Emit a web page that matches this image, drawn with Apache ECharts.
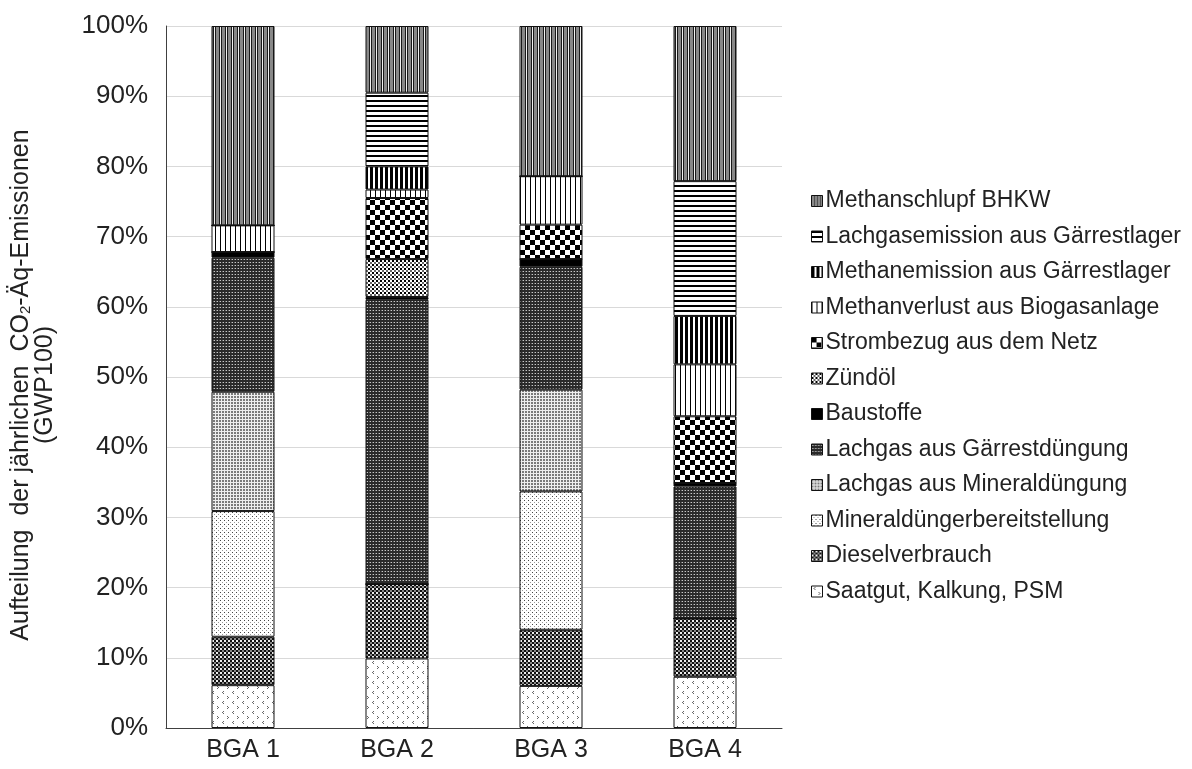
<!DOCTYPE html>
<html>
<head>
<meta charset="utf-8">
<script src="https://cdn.jsdelivr.net/npm/echarts@6/dist/echarts.min.js"></script>
<style>
  html, body { margin: 0; padding: 0; background: #fff; }
  #chart { width: 1192px; height: 769px; }
</style>
</head>
<body>
<div id="chart"></div>
<script>
// Anteile der jährlichen CO2-Äq-Emissionen je Biogasanlage (in %)
const categories = ['BGA 1', 'BGA 2', 'BGA 3', 'BGA 4'];
const saatgut         = [6.1, 9.9, 6.0, 7.3];
const diesel          = [6.9, 10.6, 8.0, 8.3];
const mineralBereit   = [17.9, 0, 19.7, 0];
const lachgasMineral  = [17.0, 0, 14.5, 0];
const lachgasGaerrest = [19.1, 40.5, 17.5, 18.8];
const baustoffe       = [0.8, 0.4, 1.1, 0.5];
const zuendoel        = [0, 5.4, 0, 0];
const strom           = [0, 8.7, 4.9, 9.5];
const methanverlust   = [3.8, 1.2, 6.9, 7.4];
const methanemission  = [0, 3.3, 0, 6.9];
const lachgasemission = [0, 10.5, 0, 19.2];
const methanschlupf   = [28.4, 9.5, 21.4, 22.1];

const yTicks = { min: 0, max: 100, step: 10 };

// Small canvas tiles used as repeating fill patterns
function tile(w, h, draw) {
  const c = document.createElement('canvas');
  c.width = w; c.height = h;
  const g = c.getContext('2d');
  draw(g);
  return { image: c, repeat: 'repeat' };
}
function px(g, color, x, y, w, h) { g.fillStyle = color; g.fillRect(x, y, w || 1, h || 1); }

const patterns = {
  saatgut: tile(10, 10, g => {
    px(g, '#fff', 0, 0, 10, 10);
    px(g, '#666', 3, 1); px(g, '#666', 2, 2); px(g, '#666', 3, 3);
    px(g, '#666', 7, 6); px(g, '#666', 8, 7); px(g, '#666', 7, 8);
  }),
  diesel: tile(4, 4, g => {
    px(g, '#111', 0, 0, 4, 4);
    px(g, '#eee', 0, 0, 2, 2);
    px(g, '#888', 2, 2, 2, 2);
  }),
  mineralBereit: tile(4, 4, g => {
    px(g, '#fff', 0, 0, 4, 4);
    px(g, '#444', 0, 0);
    px(g, '#999', 2, 2);
  }),
  lachgasMineral: tile(3, 3, g => {
    px(g, '#eeeeee', 0, 0, 3, 3);
    px(g, '#7a7a7a', 0, 0, 2, 2);
  }),
  lachgasGaerrest: tile(3, 3, g => {
    px(g, '#2a2a2a', 0, 0, 3, 3);
    px(g, '#c8c8c8', 1, 1);
    px(g, '#6a6a6a', 0, 1);
  }),
  baustoffe: '#000',
  zuendoel: tile(4, 4, g => {
    px(g, '#fff', 0, 0, 4, 4);
    px(g, '#000', 0, 0, 2, 2);
    px(g, '#666', 2, 2, 2, 2);
  }),
  strom: tile(10, 10, g => {
    px(g, '#fff', 0, 0, 10, 10);
    px(g, '#000', 0, 0, 5, 5);
    px(g, '#000', 5, 5, 5, 5);
  }),
  methanverlust: tile(5, 1, g => {
    px(g, '#fff', 0, 0, 5, 1);
    px(g, '#000', 0, 0);
  }),
  methanemission: tile(5, 1, g => {
    px(g, '#fff', 0, 0, 5, 1);
    px(g, '#000', 0, 0, 3, 1);
  }),
  lachgasemission: tile(1, 5, g => {
    px(g, '#fff', 0, 0, 1, 5);
    px(g, '#000', 0, 0, 1, 2);
  }),
  methanschlupf: tile(6, 1, g => {
    px(g, '#888', 0, 0, 3, 1);
    px(g, '#1a1a1a', 3, 0);
    px(g, '#f2f2f2', 4, 0);
    px(g, '#1a1a1a', 5, 0);
  })
};

// Stack order from bottom to top
const stackDefs = [
  ['Saatgut, Kalkung, PSM', saatgut, patterns.saatgut],
  ['Dieselverbrauch', diesel, patterns.diesel],
  ['Mineraldüngerbereitstellung', mineralBereit, patterns.mineralBereit],
  ['Lachgas aus Mineraldüngung', lachgasMineral, patterns.lachgasMineral],
  ['Lachgas aus Gärrestdüngung', lachgasGaerrest, patterns.lachgasGaerrest],
  ['Baustoffe', baustoffe, patterns.baustoffe],
  ['Zündöl', zuendoel, patterns.zuendoel],
  ['Strombezug aus dem Netz', strom, patterns.strom],
  ['Methanverlust aus Biogasanlage', methanverlust, patterns.methanverlust],
  ['Methanemission aus Gärrestlager', methanemission, patterns.methanemission],
  ['Lachgasemission aus Gärrestlager', lachgasemission, patterns.lachgasemission],
  ['Methanschlupf BHKW', methanschlupf, patterns.methanschlupf]
];

const FONT = "'Liberation Sans', Arial, sans-serif";
const TEXT = '#222';

const series = stackDefs.map(([name, values, fill]) => ({
  name: name,
  type: 'bar',
  stack: 'total',
  barWidth: 63,
  data: values,
  itemStyle: { color: fill, borderColor: '#111', borderWidth: 1 },
  emphasis: { disabled: true }
}));

const chart = echarts.init(document.getElementById('chart'), null, { renderer: 'canvas' });
chart.setOption({
  animation: false,
  backgroundColor: '#fff',
  textStyle: { fontFamily: FONT, color: TEXT },
  grid: { left: 166, right: 410, top: 26, bottom: 41, containLabel: false, outerBoundsMode: 'none' },
  legend: {
    orient: 'vertical',
    left: 806,
    top: 184,
    icon: 'rect',
    itemWidth: 11,
    itemHeight: 11,
    itemGap: 11.5,
    selectedMode: false,
    itemStyle: { borderColor: '#111', borderWidth: 1 },
    textStyle: { fontFamily: FONT, fontSize: 23, color: TEXT, lineHeight: 24, padding: [0, 0, 0, -2] },
    data: stackDefs.map(d => d[0]).reverse()
  },
  xAxis: {
    type: 'category',
    data: categories,
    axisLine: { show: true, lineStyle: { color: '#404040', width: 1 } },
    axisTick: { show: false },
    axisLabel: { fontFamily: FONT, fontSize: 25, color: TEXT, margin: 10 }
  },
  yAxis: {
    type: 'value',
    min: yTicks.min,
    max: yTicks.max,
    interval: yTicks.step,
    axisLine: { show: true, lineStyle: { color: '#404040', width: 1 } },
    axisTick: { show: false },
    splitLine: { lineStyle: { color: '#d9d9d9', width: 1 } },
    axisLabel: { formatter: '{value}%', fontFamily: FONT, fontSize: 26, color: TEXT, margin: 18 },
    name: '{a|Aufteilung  der jährlichen  CO}{s|2}{a|-Äq-Emissionen}\n{a|(GWP100)}',
    nameLocation: 'middle',
    nameRotate: 90,
    nameGap: 109,
    nameTextStyle: {
      fontFamily: FONT,
      color: TEXT,
      align: 'center',
      padding: [0, 16, 0, 0],
      rich: {
        a: { fontFamily: FONT, fontSize: 25, color: TEXT, lineHeight: 24 },
        s: { fontFamily: FONT, fontSize: 15, color: TEXT, lineHeight: 10, verticalAlign: 'bottom' }
      }
    }
  },
  series: series
});
</script>
</body>
</html>
